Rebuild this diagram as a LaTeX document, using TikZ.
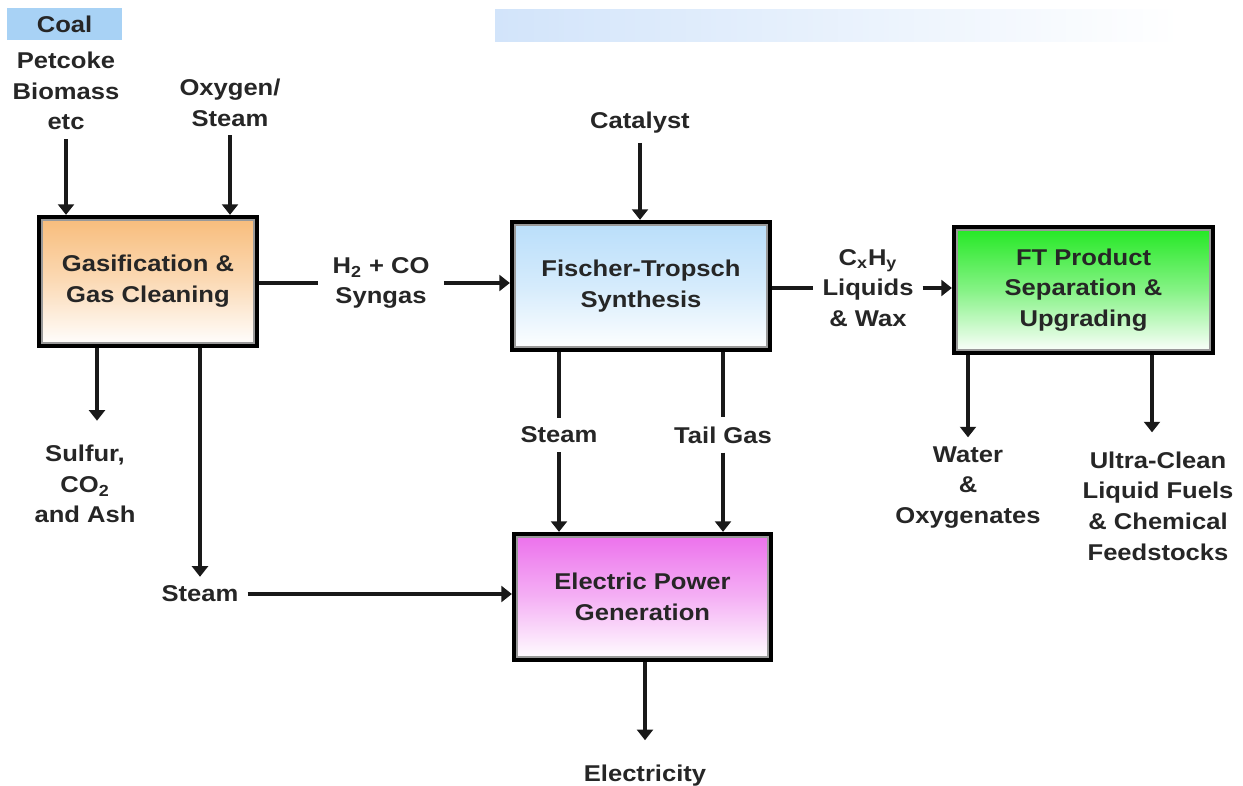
\documentclass[tikz,border=0pt]{standalone}
\usepackage{fontspec}
\setmainfont{Liberation Sans}[FakeStretch=1.12]
\usetikzlibrary{arrows.meta, positioning}

\begin{document}
\begin{tikzpicture}[
    x=1cm, y=1cm,
    every node/.style={font=\fontsize{13}{17.5}\selectfont\bfseries, align=center, text=black!85},
    stage/.style={
      rectangle, draw=black, line width=2.4pt,
      path picture={\draw[black!40, line width=4.4pt]
        (path picture bounding box.south west) rectangle (path picture bounding box.north east);}
    },
    lbl/.style={inner sep=5pt},
    arr/.style={-{Triangle[width=9pt,length=6pt]}, draw=black!90, line width=2pt},
    feed/.style={draw=black!90, line width=2pt}
  ]
    \definecolor{coalBlue}{RGB}{168,210,245}
    \definecolor{bandBlue}{RGB}{210,228,250}
    \definecolor{gasOrange}{RGB}{248,188,122}
    \definecolor{ftBlue}{RGB}{185,222,250}
    \definecolor{upGreen}{RGB}{34,232,34}
    \definecolor{powerPink}{RGB}{236,112,236}

    \useasboundingbox (0,0) rectangle (24.86,15.70);

    % faded band at the top
    \shade[left color=bandBlue, right color=white] (9.90,14.86) rectangle (23.60,15.50);

    % process blocks
    \node[stage, top color=gasOrange, bottom color=white, middle color=gasOrange!55!white,
      minimum width=4.36cm, minimum height=2.58cm] (gas) at (2.96,10.07)
      {Gasification \&\\Gas Cleaning};
    \node[stage, top color=ftBlue, bottom color=white, middle color=ftBlue!60!white,
      minimum width=5.16cm, minimum height=2.56cm] (ft) at (12.82,9.98)
      {Fischer-Tropsch\\Synthesis};
    \node[stage, top color=upGreen, bottom color=white, middle color=upGreen!55!white,
      minimum width=5.18cm, minimum height=2.52cm] (up) at (21.67,9.90)
      {FT Product\\Separation \&\\Upgrading};
    \node[stage, top color=powerPink, bottom color=white, middle color=powerPink!55!white,
      minimum width=5.14cm, minimum height=2.52cm] (power) at (12.85,3.76)
      {Electric Power\\Generation};

    % inputs
    \node[fill=coalBlue, minimum width=2.30cm, minimum height=0.64cm, inner sep=0pt] (coal) at (1.29,15.22) {Coal};
    \node[lbl] (feedstock) at (1.32,13.88) {Petcoke\\Biomass\\etc};
    \node[lbl] (oxy) at (4.60,13.65) {Oxygen/\\Steam};
    \node[lbl] (cat) at (12.80,13.24) {Catalyst};

    % streams
    \node[lbl, inner xsep=8pt] (syn) at (7.62,10.04) {H\textsubscript{2} + CO\\Syngas};
    \node[lbl] (cxhy) at (17.36,9.94) {C\textsubscript{x}H\textsubscript{y}\\Liquids\\\& Wax};
    \node[lbl] (steamft) at (11.18,7.00) {Steam};
    \node[lbl] (tail) at (14.46,7.00) {Tail Gas};

    % outputs
    \node[lbl] (sulfur) at (1.70,6.02) {Sulfur,\\CO\textsubscript{2}\\and Ash};
    \node[lbl] (steamgas) at (4.00,3.82) {Steam};
    \node[lbl] (water) at (19.36,5.95) {Water\\\&\\Oxygenates};
    \node[lbl] (fuels) at (23.16,5.58) {Ultra-Clean\\Liquid Fuels\\\& Chemical\\Feedstocks};
    \node[lbl] (elec) at (12.90,0.18) {Electricity};

    \coordinate (sulfurin) at ([xshift=0.24cm, yshift=0.30cm]sulfur.north);
    \coordinate (fuelsin) at ([xshift=-0.12cm, yshift=0.20cm]fuels.north);
    \coordinate (elecin) at ([yshift=0.32cm]elec.north);

    % feeds into the gasifier and FT reactor
    \draw[arr] (feedstock.south) -- (feedstock.south |- gas.north);
    \draw[arr] (oxy.south) -- (oxy.south |- gas.north);
    \draw[arr] (cat.south) -- (cat.south |- ft.north);

    % main line
    \draw[feed] (gas.east |- syn.west) -- (syn.west);
    \draw[arr] (syn.east) -- (syn.east -| ft.west);
    \draw[feed] (ft.east |- cxhy.west) -- (cxhy.west);
    \draw[arr] (cxhy.east) -- (cxhy.east -| up.west);

    % gasifier outputs
    \draw[arr] (gas.south -| sulfurin) -- (sulfurin);
    \draw[arr] (gas.south -| steamgas.north) -- (steamgas.north);
    \draw[arr] (steamgas.east) -- (steamgas.east -| power.west);

    % FT outputs to power block
    \draw[feed] (ft.south -| steamft.north) -- (steamft.north);
    \draw[arr] (steamft.south) -- (steamft.south |- power.north);
    \draw[feed] (ft.south -| tail.north) -- (tail.north);
    \draw[arr] (tail.south) -- (tail.south |- power.north);
    \draw[arr] (power.south -| elecin) -- (elecin);

    % upgrading outputs
    \draw[arr] (up.south -| water.north) -- (water.north);
    \draw[arr] (up.south -| fuelsin) -- (fuelsin);
  \end{tikzpicture}
\end{document}
